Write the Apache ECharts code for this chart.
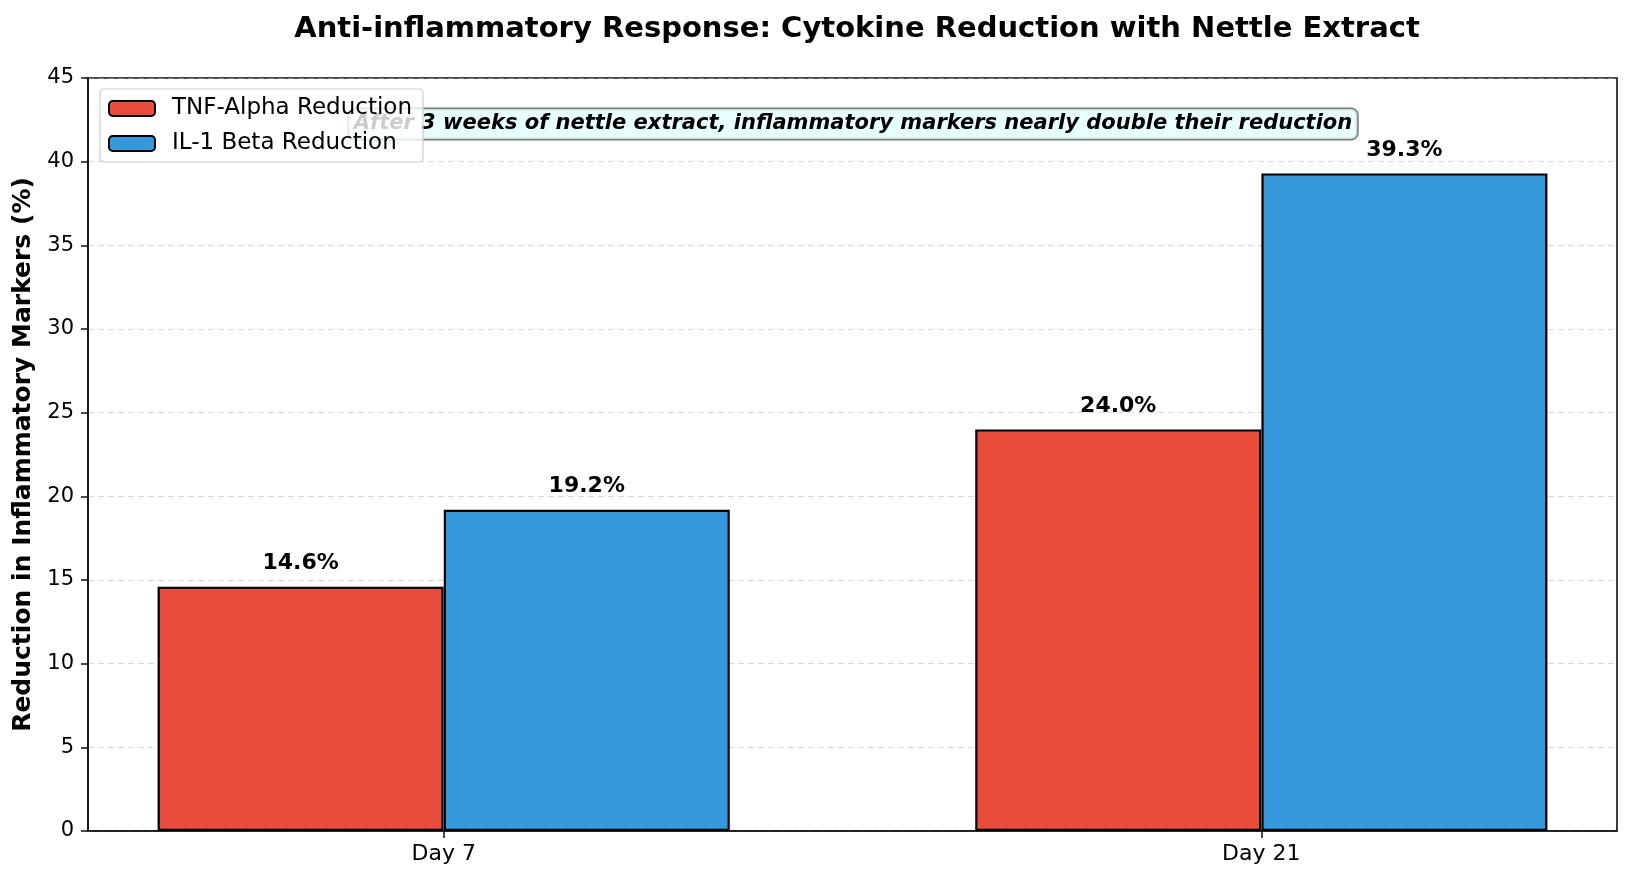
<!DOCTYPE html>
<html>
<head>
<meta charset="utf-8">
<script src="https://cdn.jsdelivr.net/npm/echarts@6/dist/echarts.min.js"></script>
<style>
html,body{margin:0;padding:0;background:#fff;}
#chart{width:1632px;height:884px;}
</style>
</head>
<body>
<div id="chart"></div>
<script>
const categories = ['Day 7', 'Day 21'];
const tnfAlpha = [14.6, 24.0];
const il1Beta = [19.2, 39.3];
const seriesNames = ['TNF-Alpha Reduction', 'IL-1 Beta Reduction'];
const yTicks = [0, 5, 10, 15, 20, 25, 30, 35, 40, 45];
const titleText = 'Anti-inflammatory Response: Cytokine Reduction with Nettle Extract';
const yAxisTitle = 'Reduction in Inflammatory Markers (%)';
const annotationText = 'After 3 weeks of nettle extract, inflammatory markers nearly double their reduction';

const FONT = 'DejaVu Sans';
const barHalfOffset = 0.175;
const catIdx = categories.map((c, i) => i);

const chart = echarts.init(document.getElementById('chart'), null, {renderer: 'canvas'});

function labelCfg() {
  return {
    show: true,
    position: 'top',
    distance: 12,
    formatter: p => p.value[1].toFixed(1) + '%',
    fontFamily: FONT,
    fontWeight: 'bold',
    fontSize: 22,
    color: '#000'
  };
}

const option = {
  animation: false,
  backgroundColor: '#fff',
  title: {
    text: titleText,
    left: 852,
    textAlign: 'center',
    top: 10,
    textStyle: {fontFamily: FONT, fontWeight: 'bold', fontSize: 29, color: '#000'}
  },
  legend: {
    orient: 'vertical',
    left: 100,
    top: 89,
    z: 10,
    itemWidth: 46,
    itemHeight: 15,
    itemGap: 12,
    padding: [8, 11, 7, 8],
    backgroundColor: 'rgba(255,255,255,0.8)',
    borderColor: '#cccccc',
    borderWidth: 1.2,
    borderRadius: 4,
    textStyle: {fontFamily: FONT, fontSize: 23, color: '#000', padding: [0, 0, 0, 12]},
    data: seriesNames
  },
  grid: {
    left: 88, right: 15, top: 78, bottom: 53,
    show: true,
    borderColor: '#111',
    borderWidth: 1.6,
    backgroundColor: 'transparent'
  },
  xAxis: {
    type: 'value',
    min: -0.435,
    max: 1.435,
    splitLine: {show: false},
    axisLine: {show: true, onZero: false, lineStyle: {color: '#111', width: 1.6}},
    axisTick: {show: true, customValues: catIdx, length: 7, lineStyle: {color: '#111', width: 1.5}},
    axisLabel: {
      show: true,
      customValues: catIdx,
      formatter: v => categories[Math.round(v)],
      fontFamily: FONT, fontSize: 22, color: '#000', margin: 12
    }
  },
  yAxis: {
    type: 'value',
    min: yTicks[0],
    max: yTicks[yTicks.length - 1],
    interval: 5,
    name: yAxisTitle,
    nameLocation: 'middle',
    nameGap: 50,
    nameTextStyle: {fontFamily: FONT, fontWeight: 'bold', fontSize: 25, color: '#000'},
    axisLine: {show: true, onZero: false, lineStyle: {color: '#111', width: 1.6}},
    axisTick: {show: true, length: 7, lineStyle: {color: '#111', width: 1.5}},
    axisLabel: {fontFamily: FONT, fontSize: 21, color: '#000', margin: 14},
    splitLine: {show: true, lineStyle: {color: 'rgba(180,180,180,0.5)', type: [6, 4], width: 1.2}}
  },
  graphic: [{
    type: 'text',
    z: 3,
    x: 853,
    y: 124,
    style: {
      text: annotationText,
      font: 'italic bold 21px "DejaVu Sans"',
      fill: '#000',
      align: 'center',
      verticalAlign: 'middle',
      backgroundColor: 'rgba(224,255,255,0.75)',
      borderColor: 'rgba(100,100,100,0.85)',
      borderWidth: 1.5,
      borderRadius: 6,
      padding: [5, 5, 4, 5]
    }
  }],
  series: [
    {
      name: seriesNames[0],
      type: 'bar',
      barWidth: 286,
      barGap: '-100%',
      itemStyle: {color: '#e74c3c', borderColor: '#000', borderWidth: 2.2},
      label: labelCfg(),
      data: tnfAlpha.map((v, i) => [i - barHalfOffset, v])
    },
    {
      name: seriesNames[1],
      type: 'bar',
      barWidth: 286,
      barGap: '-100%',
      itemStyle: {color: '#3498db', borderColor: '#000', borderWidth: 2.2},
      label: labelCfg(),
      data: il1Beta.map((v, i) => [i + barHalfOffset, v])
    }
  ]
};
chart.setOption(option);
</script>
</body>
</html>
